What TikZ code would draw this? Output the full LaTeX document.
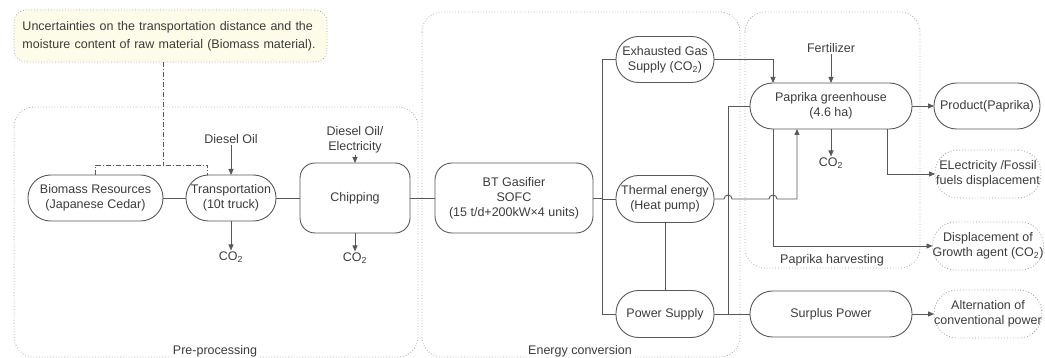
\documentclass[tikz,border=0pt]{standalone}
\usepackage{fontspec}
\setmainfont{Liberation Sans}
\usetikzlibrary{arrows.meta,calc}
\definecolor{ln}{HTML}{585858}
\definecolor{txt}{HTML}{3C3C3C}
\definecolor{cont}{HTML}{A8A8A8}
\definecolor{uncfill}{HTML}{FCFCE8}
\tikzset{
  every node/.style={font=\fontsize{12.5}{15}\selectfont, text=txt},
  conn/.style={draw=ln, line width=0.9pt},
  arr/.style={conn, -{Triangle[length=6pt,width=5pt]}},
  dd/.style={draw=ln, line width=0.8pt, dash pattern=on 5pt off 2pt on 1pt off 2pt},
  stad/.style={draw=ln, line width=0.9pt, rounded corners=22.5pt, align=center,
    inner sep=0pt, outer sep=0pt, minimum height=46pt},
  rbox/.style={draw=ln, line width=0.9pt, rounded corners=17pt, align=center,
    inner sep=0pt, outer sep=0pt, minimum height=70pt},
  outc/.style={draw=cont, line width=0.9pt, dotted, rounded corners=23pt, align=center,
    inner sep=0pt, outer sep=0pt, minimum height=48pt, minimum width=106pt},
  container/.style={draw=cont, line width=0.8pt, dotted, rounded corners=20pt},
  lab/.style={inner sep=1pt, align=center},
  clab/.style={inner sep=1pt, fill=white}
}
\begin{document}
\begin{tikzpicture}[x=1pt,y=-1pt]
\useasboundingbox (0,0) rectangle (1045,358);
% containers
\draw[container] (14,107) rectangle (418,357);
\draw[container] (422,12) rectangle (740,357);
\draw[container] (745,12) rectangle (920,268);
\node[clab] (lpre) at (215,351) {Pre-processing};
\node[clab] (lene) at (580,351) {Energy conversion};
\node[clab] (lpap) at (832,260) {Paprika harvesting};
% uncertainty note
\node[draw=cont, dotted, line width=0.8pt, fill=uncfill, rounded corners=12pt,
  minimum width=313pt, minimum height=52pt, inner sep=0pt,
  text width=296pt, align=left, font=\fontsize{12.5}{18}\selectfont] (unc) at (170.5,36)
  {Uncertainties on the transportation distance and the\\moisture content of raw material (Biomass material).};
% nodes
\node[stad, minimum width=135pt] (bio) at (95.5,198) {Biomass Resources\\(Japanese Cedar)};
\node[stad, minimum width=90pt] (trans) at (231,198) {Transportation\\(10t truck)};
\node[rbox, minimum width=110pt, rounded corners=15pt] (chip) at (355,198) {Chipping};
\node[rbox, minimum width=158pt] (gas) at (514,198) {BT Gasifier\\SOFC\\(15 t/d+200kW×4 units)};
\node[stad, minimum width=98pt] (exh) at (665,59.5) {Exhausted Gas\\Supply (CO\textsubscript{2})};
\node[stad, minimum width=98pt, minimum height=47pt] (therm) at (665,199) {Thermal energy\\(Heat pump)};
\node[stad, minimum width=98pt, minimum height=47pt] (pow) at (665,314) {Power Supply};
\node[stad, minimum width=162pt] (gh) at (831,106) {Paprika greenhouse\\(4.6 ha)};
\node[stad, minimum width=106pt] (prod) at (987,106) {Product(Paprika)};
\node[stad, minimum width=162pt] (sur) at (831,314) {Surplus Power};
\node[outc] (elec) at (988,174) {ELectricity /Fossil\\fuels displacement};
\node[outc] (disp) at (988,246) {Displacement of\\Growth agent (CO\textsubscript{2})};
\node[outc] (alt) at (988,314) {Alternation of\\conventional power};
% small labels
\node[lab] (dsl) at (231,139) {Diesel Oil};
\node[lab] (dse) at (355,140) {Diesel Oil/\\Electricity};
\node[lab] (co2t) at (231,257) {CO\textsubscript{2}};
\node[lab] (co2p) at (355,258) {CO\textsubscript{2}};
\node[lab] (fert) at (831,48) {Fertilizer};
\node[lab] (co2g) at (831,163) {CO\textsubscript{2}};
% helper coordinates
\coordinate (xT) at (602,0);
\coordinate (xA) at (728,0);
\coordinate (xB) at (773,0);
\coordinate (xC) at (797,0);
\coordinate (xD) at (887,0);
\coordinate (dj) at (163,165);
\coordinate (xE) at (207,0);
% uncertainty links
\draw[dd] (unc.south -| dj) -- (dj);
\draw[dd] (bio.north) -- (bio.north |- dj) -- (xE |- dj) -- (xE |- trans.north);
% pre-processing chain
\draw[conn] (bio.east) -- (trans.west);
\draw[conn] (trans.east) -- (chip.west);
\draw[conn] (chip.east) -- (gas.west);
\draw[arr] (dsl) -- (trans.north);
\draw[arr] (dse) -- (chip.north);
\draw[arr] (trans.south) -- (co2t);
\draw[arr] (chip.south) -- (co2p);
% energy conversion
\draw[conn] (gas.east) -- (gas.east -| xT);
\draw[conn] (exh.west) -- (exh.west -| xT) -- (pow.west -| xT) -- (pow.west);
\draw[conn] (therm.west) -- (therm.west -| xT);
\draw[conn] (therm) -- (pow);
% paprika
\draw[arr] (exh.east) -| (gh.north -| xB);
\draw[arr] (fert) -- (gh.north);
\draw[arr] (gh.south) -- (co2g);
\draw[arr] (gh.east) -- (prod.west);
\draw[arr] (gh.south -| xD) |- (elec.west);
\draw[arr] (gh.south -| xB) |- (disp.west);
\draw[conn] (gh.west) -| (xA |- pow.east);
\draw[conn] (pow.east) -- (sur.west);
\draw[arr] (sur.east) -- (alt.west);
\draw[arr] (therm.east) -- ($(xA |- therm.east)+(-4,0)$)
  arc[start angle=180,end angle=0,radius=4pt]
  -- ($(xB |- therm.east)+(-4,0)$)
  arc[start angle=180,end angle=0,radius=4pt]
  -- (xC |- therm.east) -- (gh.south -| xC);
\end{tikzpicture}
\end{document}
